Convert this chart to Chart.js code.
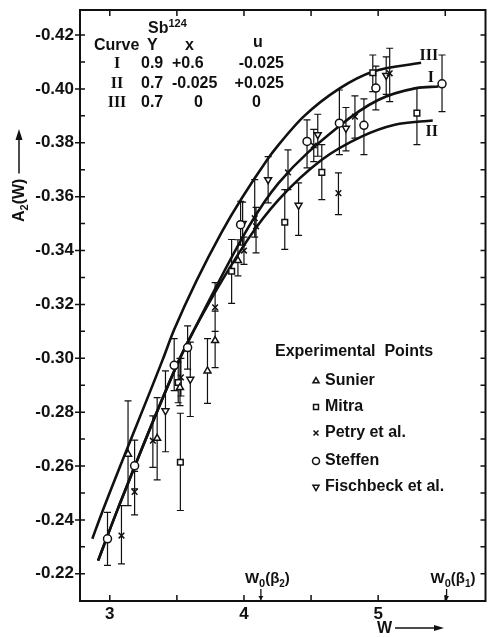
<!DOCTYPE html>
<html>
<head>
<meta charset="utf-8">
<script src="https://cdn.jsdelivr.net/npm/chart.js@4/dist/chart.umd.min.js"></script>
<style>
  html, body { margin: 0; padding: 0; background: #fff; }
</style>
</head>
<body>
<canvas id="chart" width="491" height="637"></canvas>
<script>
/* Axis ticks */
const xTickValues = [3, 4, 5];
const xMinorValues = [3.5, 4.5, 5.5];
const yTickValues = [-0.42, -0.40, -0.38, -0.36, -0.34, -0.32, -0.30, -0.28, -0.26, -0.24, -0.22];

/* Theory curves (W, A2) */
const curve1W = [2.913, 3.06, 3.519, 3.63, 4.037, 4.259, 4.704, 5.0, 5.284, 5.45];
const curve1A = [-0.2249, -0.2441, -0.2996, -0.3107, -0.349, -0.3651, -0.386, -0.3959, -0.4003, -0.4009];
const curve2W = [2.913, 3.06, 3.519, 3.63, 4.037, 4.259, 4.58, 4.876, 5.124, 5.407];
const curve2A = [-0.2249, -0.2441, -0.2996, -0.3107, -0.3447, -0.3589, -0.3737, -0.3823, -0.3867, -0.3883];
const curve3W = [2.87, 2.94, 3.395, 3.48, 3.83, 4.173, 4.259, 4.444, 4.716, 4.958, 5.32];
const curve3A = [-0.233, -0.2425, -0.2996, -0.3107, -0.3465, -0.3737, -0.3793, -0.3897, -0.4003, -0.4064, -0.4097];

/* Experimental points: W, A2, error bar ends */
const sunierW = [3.136, 3.353, 3.523, 3.728, 3.785, 3.955];
const sunierA = [-0.2644, -0.2703, -0.2892, -0.2953, -0.3066, -0.3363];
const sunierLo = [-0.2842, -0.2854, -0.300, -0.3073, -0.3175, -0.344];
const sunierHi = [-0.2453, -0.2549, -0.2824, -0.2833, -0.2965, -0.3306];

const mitraW = [3.51, 3.526, 3.908, 4.304, 4.58, 4.96, 5.289];
const mitraA = [-0.291, -0.2614, -0.3323, -0.3505, -0.369, -0.406, -0.391];
const mitraLo = [-0.2985, -0.2796, -0.3441, -0.3626, -0.3793, -0.4126, -0.4003];
const mitraHi = [-0.2835, -0.2435, -0.3204, -0.3404, -0.3589, -0.399, -0.3793];

const petryW = [3.087, 3.185, 3.321, 3.53, 3.785, 4.0, 4.08, 4.09, 4.328, 4.52, 4.704, 4.827, 5.086];
const petryA = [-0.2342, -0.2504, -0.2694, -0.2929, -0.3189, -0.340, -0.352, -0.349, -0.369, -0.379, -0.3613, -0.3897, -0.4058];
const petryLo = [-0.2453, -0.258, -0.2786, -0.300, -0.3281, -0.345, -0.3663, -0.356, -0.3774, -0.385, -0.3688, -0.3974, -0.4151];
const petryHi = [-0.2237, -0.2419, -0.2595, -0.286, -0.310, -0.3349, -0.345, -0.3391, -0.3626, -0.373, -0.3533, -0.3817, -0.3953];

const steffenW = [2.983, 3.185, 3.48, 3.58, 3.975, 4.47, 4.711, 4.894, 4.983, 5.476];
const steffenA = [-0.233, -0.2601, -0.2974, -0.304, -0.3496, -0.3805, -0.3873, -0.3865, -0.4003, -0.4019];
const steffenLo = [-0.2428, -0.2696, -0.3073, -0.312, -0.3583, -0.3885, -0.3996, -0.3963, -0.4085, -0.4126];
const steffenHi = [-0.2231, -0.2515, -0.288, -0.296, -0.342, -0.3707, -0.3756, -0.3756, -0.3922, -0.3916];

const fischbeckW = [3.415, 3.6, 3.99, 4.18, 4.407, 4.55, 4.76, 5.06];
const fischbeckA = [-0.2805, -0.2922, -0.350, -0.3663, -0.3568, -0.383, -0.3854, -0.405];
const fischbeckLo = [-0.2953, -0.306, -0.358, -0.3749, -0.3651, -0.3906, -0.3931, -0.4119];
const fischbeckHi = [-0.2653, -0.2784, -0.342, -0.3577, -0.3456, -0.375, -0.377, -0.398];

/* Threshold energies marked on the W axis */
const w0Values = [4.126, 5.51];
const w0Labels = ["2", "1"];

const ink = "#111";
const sans = '"Liberation Sans", Arial, sans-serif';
const toXY = (ws, as) => ws.map((w, i) => ({ x: w, y: as[i] }));

const curveStyle = {
    showLine: true,
    pointRadius: 0,
    borderColor: ink,
    borderWidth: 2.6,
    cubicInterpolationMode: "monotone",
    order: 2
};

const markerStyle = {
    showLine: false,
    pointRadius: 4,
    pointBorderWidth: 1.5,
    borderColor: ink,
    backgroundColor: "#fff",
    order: 1
};

const series = [
    { label: "Sunier", w: sunierW, a: sunierA, lo: sunierLo, hi: sunierHi, style: "triangle", rot: 0 },
    { label: "Mitra", w: mitraW, a: mitraA, lo: mitraLo, hi: mitraHi, style: "rect", rot: 0 },
    { label: "Petry et al.", w: petryW, a: petryA, lo: petryLo, hi: petryHi, style: "crossRot", rot: 0 },
    { label: "Steffen", w: steffenW, a: steffenA, lo: steffenLo, hi: steffenHi, style: "circle", rot: 0 },
    { label: "Fischbeck et al.", w: fischbeckW, a: fischbeckA, lo: fischbeckLo, hi: fischbeckHi, style: "triangle", rot: 180 }
];

/* Error bars drawn through the scales */
const errorBars = {
    id: "errorBars",
    beforeDatasetsDraw(chart) {
        const { ctx, scales: { x, y } } = chart;
        ctx.save();
        ctx.strokeStyle = ink;
        ctx.lineWidth = 1.2;
        ctx.beginPath();
        series.forEach(s => {
            s.w.forEach((w, i) => {
                const px = x.getPixelForValue(w);
                const p1 = y.getPixelForValue(s.lo[i]);
                const p2 = y.getPixelForValue(s.hi[i]);
                ctx.moveTo(px, p1); ctx.lineTo(px, p2);
                ctx.moveTo(px - 3.5, p1); ctx.lineTo(px + 3.5, p1);
                ctx.moveTo(px - 3.5, p2); ctx.lineTo(px + 3.5, p2);
            });
        });
        ctx.stroke();
        ctx.restore();
    }
};

/* text with sub/superscripts: parts are [text, size, dy] */
function drawScript(ctx, parts, x, y) {
    parts.forEach(([t, size, dy]) => {
        ctx.font = `bold ${size}px ${sans}`;
        ctx.fillText(t, x, y + dy);
        x += ctx.measureText(t).width;
    });
    return x;
}

/* Frame, inner ticks and all the lettering */
const decorations = {
    id: "decorations",
    afterDraw(chart) {
        const { ctx, chartArea: a, scales: { x, y } } = chart;
        ctx.save();
        ctx.strokeStyle = ink;
        ctx.fillStyle = ink;

        ctx.lineWidth = 2;
        ctx.strokeRect(a.left, a.top, a.right - a.left, a.bottom - a.top);

        ctx.lineWidth = 1.5;
        ctx.beginPath();
        for (let i = 0; i <= 20; i++) {
            const py = y.getPixelForValue(-0.42 + i * 0.01);
            const major = i % 2 === 0;
            ctx.moveTo(a.left - (major ? 5 : 0), py); ctx.lineTo(a.left + 5, py);
            ctx.moveTo(a.right, py); ctx.lineTo(a.right - 5, py);
        }
        xTickValues.concat(xMinorValues).forEach(v => {
            const px = x.getPixelForValue(v);
            ctx.moveTo(px, a.bottom); ctx.lineTo(px, a.bottom - 6);
            ctx.moveTo(px, a.top); ctx.lineTo(px, a.top + 6);
        });
        ctx.stroke();

        // W0 markers
        ctx.textBaseline = "alphabetic";
        ctx.textAlign = "left";
        w0Values.forEach((v, i) => {
            const px = x.getPixelForValue(v);
            ctx.lineWidth = 1.3;
            ctx.beginPath();
            ctx.moveTo(px, a.bottom - 12); ctx.lineTo(px, a.bottom - 1);
            ctx.stroke();
            ctx.beginPath();
            ctx.moveTo(px - 2.5, a.bottom - 5); ctx.lineTo(px, a.bottom - 1); ctx.lineTo(px + 2.5, a.bottom - 5);
            ctx.fill();
            drawScript(ctx, [["W", 15, 0], ["0", 11, 4], ["(β", 15, 0], [w0Labels[i], 10, 4], [")", 15, 0]], px - 16, a.bottom - 18);
        });

        // curve labels
        ctx.font = 'bold 16px "Liberation Serif", serif';
        ctx.textAlign = "center";
        ctx.textBaseline = "middle";
        ctx.fillText("III", x.getPixelForValue(5.378), y.getPixelForValue(-0.4122));
        ctx.fillText("I", x.getPixelForValue(5.393), y.getPixelForValue(-0.4041));
        ctx.fillText("II", x.getPixelForValue(5.40), y.getPixelForValue(-0.3841));

        // parameter table
        ctx.textBaseline = "alphabetic";
        ctx.textAlign = "left";
        drawScript(ctx, [["Sb", 16, 0], ["124", 11, -6]], 148, 33);
        ctx.font = `bold 16px ${sans}`;
        ctx.fillText("Curve", 94, 50);
        ctx.fillText("Y", 147, 50);
        ctx.fillText("x", 185, 50);
        ctx.fillText("u", 253, 47);
        ctx.fillText("0.9", 141, 68);
        ctx.fillText("+0.6", 172, 68);
        ctx.fillText("0.7", 141, 88);
        ctx.fillText("-0.025", 172, 88);
        ctx.fillText("0.7", 141, 107);
        ctx.fillText("0", 194, 107);
        ctx.textAlign = "right";
        ctx.fillText("-0.025", 284, 68);
        ctx.fillText("+0.025", 284, 88);
        ctx.textAlign = "left";
        ctx.fillText("0", 252, 107);
        ctx.font = 'bold 16px "Liberation Serif", serif';
        ctx.textAlign = "center";
        ctx.fillText("I", 117, 68);
        ctx.fillText("II", 117, 88);
        ctx.fillText("III", 117, 107);

        // experimental points legend
        ctx.textAlign = "left";
        ctx.textBaseline = "middle";
        const rows = [381, 407, 433, 461, 487];
        series.forEach((s, i) => {
            ctx.lineWidth = 1.5;
            ctx.fillStyle = "#fff";
            Chart.helpers.drawPoint(ctx, {
                pointStyle: s.style, radius: 3.5, rotation: s.rot, borderWidth: 1.5
            }, 316, rows[i]);
            ctx.fillStyle = ink;
            ctx.font = `bold 16px ${sans}`;
            ctx.fillText(s.label, 325, rows[i]);
        });
        ctx.fillText("Experimental  Points", 275, 352);

        // axis titles
        ctx.save();
        ctx.translate(24, 222);
        ctx.rotate(-Math.PI / 2);
        ctx.textBaseline = "alphabetic";
        const end = drawScript(ctx, [["A", 16, 0], ["2", 11, 4], ["(W)", 16, 0]], 0, 0);
        ctx.restore();
        ctx.lineWidth = 1.5;
        ctx.beginPath();
        ctx.moveTo(19, 222 - end - 5); ctx.lineTo(19, 132);
        ctx.stroke();
        ctx.beginPath();
        ctx.moveTo(15.5, 140); ctx.lineTo(19, 129); ctx.lineTo(22.5, 140);
        ctx.fill();

        ctx.textBaseline = "alphabetic";
        ctx.font = `bold 16px ${sans}`;
        ctx.fillText("W", 377, 633);
        ctx.beginPath();
        ctx.moveTo(395, 628); ctx.lineTo(436, 628);
        ctx.stroke();
        ctx.beginPath();
        ctx.moveTo(434, 625); ctx.lineTo(444, 628); ctx.lineTo(434, 631);
        ctx.fill();

        ctx.restore();
    }
};

new Chart(document.getElementById("chart"), {
    type: "scatter",
    data: {
        datasets: [
            { ...curveStyle, label: "I", data: toXY(curve1W, curve1A) },
            { ...curveStyle, label: "II", data: toXY(curve2W, curve2A) },
            { ...curveStyle, label: "III", data: toXY(curve3W, curve3A) },
            ...series.map(s => ({
                ...markerStyle,
                label: s.label,
                data: toXY(s.w, s.a),
                pointStyle: s.style,
                rotation: s.rot
            }))
        ]
    },
    options: {
        responsive: false,
        animation: false,
        layout: { padding: { top: 10, right: 3, left: 0, bottom: 0 } },
        plugins: {
            legend: { display: false },
            tooltip: { enabled: false }
        },
        scales: {
            x: {
                type: "linear",
                min: 2.778,
                max: 5.80,
                afterBuildTicks: scale => { scale.ticks = xTickValues.map(v => ({ value: v })); },
                afterFit: scale => {
                    scale.height = 36;
                    scale.paddingLeft = 0;
                    scale.paddingRight = 0;
                },
                grid: { drawOnChartArea: false, drawTicks: false },
                border: { display: false },
                ticks: {
                    color: ink,
                    padding: 3,
                    font: { family: sans, size: 17, weight: "bold" }
                }
            },
            y: {
                type: "linear",
                reverse: true,
                min: -0.4293,
                max: -0.2099,
                afterBuildTicks: scale => { scale.ticks = yTickValues.map(v => ({ value: v })); },
                afterFit: scale => {
                    scale.width = 80;
                    scale.paddingTop = 0;
                    scale.paddingBottom = 0;
                },
                grid: { drawOnChartArea: false, drawTicks: false },
                border: { display: false },
                ticks: {
                    color: ink,
                    padding: 6,
                    callback: v => v.toFixed(2),
                    font: { family: sans, size: 17, weight: "bold" }
                }
            }
        }
    },
    plugins: [errorBars, decorations]
});
</script>
</body>
</html>
